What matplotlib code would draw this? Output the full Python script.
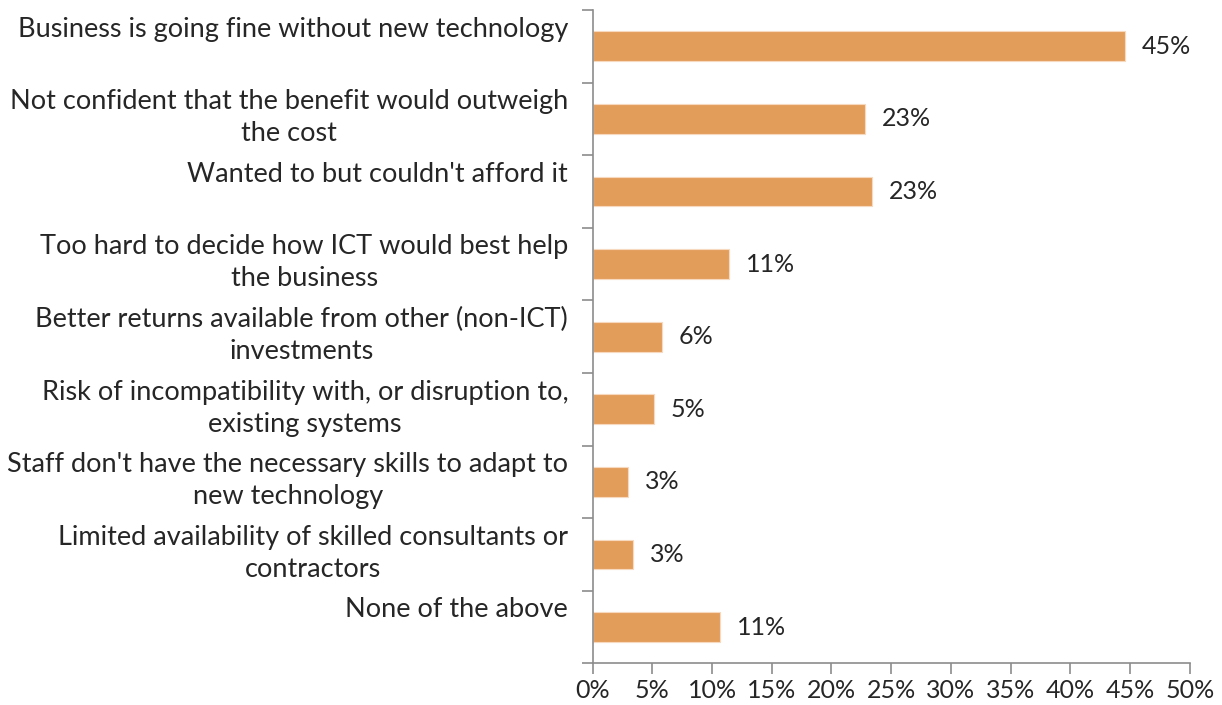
import matplotlib
matplotlib.use("Agg")
import matplotlib.pyplot as plt
from matplotlib.ticker import FuncFormatter, MultipleLocator
import matplotlib.transforms as mtransforms

categories = [
    "Business is going fine without new technology",
    "Not confident that the benefit would outweigh\nthe cost",
    "Wanted to but couldn't afford it",
    "Too hard to decide how ICT would best help\nthe business",
    "Better returns available from other (non-ICT)\ninvestments",
    "Risk of incompatibility with, or disruption to,\nexisting systems",
    "Staff don't have the necessary skills to adapt to\nnew technology",
    "Limited availability of skilled consultants or\ncontractors",
    "None of the above",
]
shares = [44.6, 22.8, 23.4, 11.4, 5.8, 5.1, 3.0, 3.4, 10.7]

BAR_COLOR = "#E39D5B"
AXIS_COLOR = "#8C8C8C"
TEXT_COLOR = "#262626"

plt.rcParams["font.family"] = ["Lato", "DejaVu Sans"]

fig = plt.figure(figsize=(12.22, 7.05), dpi=100)
ax = fig.add_axes([0.485, 0.0591, 0.4886, 0.9267])

pos = list(range(len(categories)))
ax.barh(pos, shares, height=0.41, color=BAR_COLOR, edgecolor="#F6D9BE", linewidth=0.8)

ax.set_xlim(0, 50)
ax.set_ylim(len(categories) - 0.5, -0.5)

# x axis: percent ticks every 5
ax.xaxis.set_major_locator(MultipleLocator(5))
ax.xaxis.set_major_formatter(FuncFormatter(lambda v, _: f"{v:.0f}%"))
ax.tick_params(axis="x", length=8, width=1.2, color=AXIS_COLOR, labelsize=18,
               labelcolor=TEXT_COLOR, pad=3)

# y axis: ticks on category boundaries, labels drawn as text
ax.set_yticks([p - 0.5 for p in pos] + [len(categories) - 0.5])
ax.set_yticklabels([])
ax.tick_params(axis="y", length=8, width=1.2, color=AXIS_COLOR)

for side in ("top", "right"):
    ax.spines[side].set_visible(False)
for side in ("left", "bottom"):
    ax.spines[side].set_color(AXIS_COLOR)
    ax.spines[side].set_linewidth(1.2)

# category labels, top-aligned within each band
trans = mtransforms.blended_transform_factory(ax.transAxes, ax.transData)
for p, label in zip(pos, categories):
    ax.text(-0.041, p - 0.41, label, transform=trans, ha="right", va="top",
            multialignment="center", fontsize=19.5, color=TEXT_COLOR,
            linespacing=1.35)

# value labels next to bars
for p, v in zip(pos, shares):
    ax.annotate(f"{v:.0f}%", xy=(v, p), xytext=(12, 0), textcoords="offset points",
                ha="left", va="center", fontsize=18, color=TEXT_COLOR)

fig.savefig("out.png", dpi=100)
